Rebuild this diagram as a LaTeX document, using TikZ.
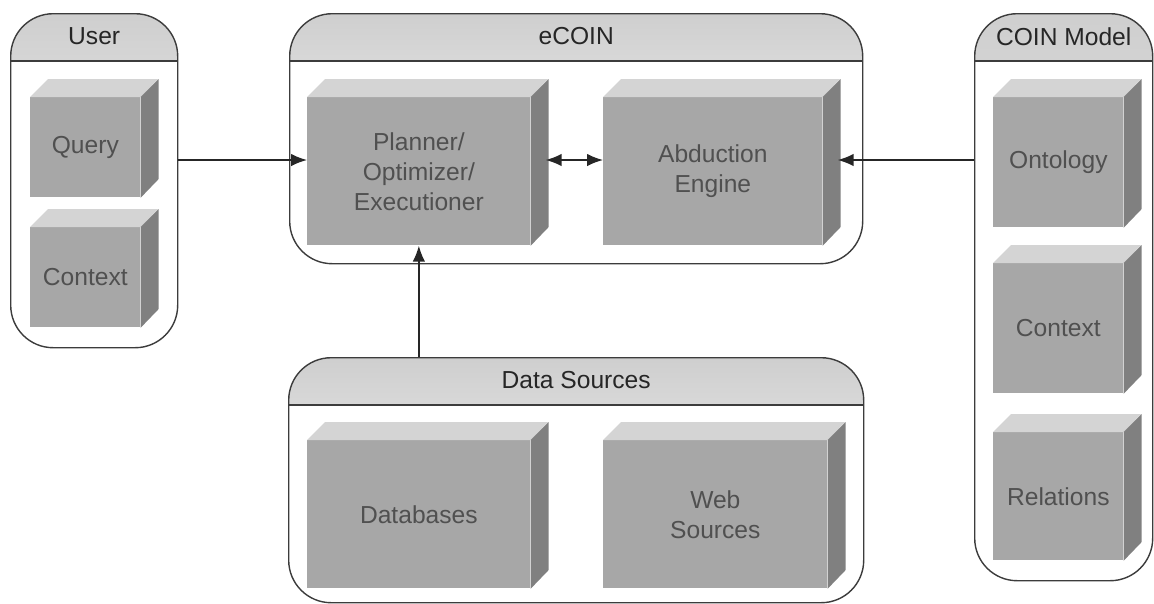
\documentclass[tikz,border=0pt]{standalone}
\usepackage{fontspec}
\setmainfont{Liberation Sans}
\usetikzlibrary{arrows.meta}

\definecolor{frontgray}{HTML}{A7A7A7}
\definecolor{topgray}{HTML}{D4D4D4}
\definecolor{sidegray}{HTML}{808080}
\definecolor{textgray}{HTML}{505050}
\definecolor{framegray}{HTML}{3C3C3C}

\tikzset{
  container/.style={draw=framegray, line width=0.8pt, rounded corners=0.85cm,
    anchor=north west, inner sep=0pt,
    path picture={
      \shade[sharp corners, top color=gray!38, bottom color=white]
        (path picture bounding box.north west) rectangle
        ([yshift=-0.94cm]path picture bounding box.north east);
      \draw[sharp corners, framegray, line width=1.2pt]
        ([yshift=-0.94cm]path picture bounding box.north west) --
        ([yshift=-0.94cm]path picture bounding box.north east);}},
  head/.style={font=\fontsize{14}{17}\selectfont, text=black!85},
  blockfront/.style={fill=frontgray, anchor=north west, inner sep=0pt,
    align=center, text=textgray, font=\fontsize{14}{17}\selectfont},
  blocktop/.style={fill=topgray},
  blockside/.style={fill=sidegray},
  link/.style={draw=black!85, line width=0.8pt, -{Latex[length=9pt,width=7pt]}},
  twolink/.style={link, {Latex[length=9pt,width=7pt]}-{Latex[length=9pt,width=7pt]}}
}

% name, x, y, width, height, text (pixels)
\newcommand{\blockbox}[6]{%
  \node[blockfront, minimum width=#4*0.02cm, minimum height=#5*0.02cm] (#1) at (#2,#3) {#6};
  \fill[blocktop] (#1.north west) -- ++(18,-18) -- ++(#4,0) -- (#1.north east) -- cycle;
  \fill[blockside] (#1.north east) -- ++(18,-18) -- ++(0,#5) -- (#1.south east) -- cycle;
}

\begin{document}
\begin{tikzpicture}[x=0.02cm, y=-0.02cm]
  \useasboundingbox (0,0) rectangle (1154,603);

  % containers
  \node[container, minimum width=167*0.02cm, minimum height=334*0.02cm] (user) at (10,13) {};
  \node[container, minimum width=573*0.02cm, minimum height=250*0.02cm] (ecoin) at (289,13) {};
  \node[container, minimum width=575*0.02cm, minimum height=245*0.02cm] (data) at (288,357) {};
  \node[container, minimum width=178*0.02cm, minimum height=567*0.02cm] (coin) at (974,13) {};

  \node[head] (userhead) at ([yshift=-0.47cm]user.north) {User};
  \node[head] (ecoinhead) at ([yshift=-0.47cm]ecoin.north) {eCOIN};
  \node[head] (datahead) at ([yshift=-0.47cm]data.north) {Data Sources};
  \node[head] (coinhead) at ([yshift=-0.47cm]coin.north) {COIN Model};

  % blocks
  \blockbox{query}{30}{97}{110}{100}{Query}
  \blockbox{usercontext}{30}{227}{110}{100}{Context}
  \blockbox{planner}{307}{97}{223}{148}{Planner/\\Optimizer/\\Executioner}
  \blockbox{abduction}{603}{97}{219}{148}{Abduction\\Engine}
  \blockbox{databases}{307}{440}{223}{148}{Databases}
  \blockbox{websources}{603}{440}{224}{148}{Web\\Sources}
  \blockbox{ontology}{993}{97}{130}{130}{Ontology}
  \blockbox{coincontext}{993}{263}{130}{130}{Context}
  \blockbox{relations}{993}{432}{130}{128}{Relations}

  % connectors
  \coordinate (row) at (0,160);
  \draw[link] (user.east |- row) -- (planner.west |- row);
  \draw[twolink] ([xshift=0.3cm]planner.east |- row) -- (abduction.west |- row);
  \draw[link] (coin.west |- row) -- ([xshift=0.3cm]abduction.east |- row);
  \draw[link] (planner.south |- data.north) -- (planner.south);
\end{tikzpicture}
\end{document}
